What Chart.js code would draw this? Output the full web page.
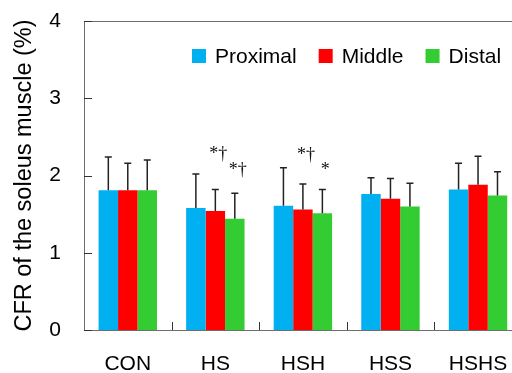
<!DOCTYPE html>
<html>
<head>
<meta charset="utf-8">
<script src="https://cdn.jsdelivr.net/npm/chart.js@4.4.1/dist/chart.umd.min.js"></script>
<style>
  html, body { margin: 0; padding: 0; background: #fff; overflow: hidden; }
  #wrap { width: 530px; height: 373px; }
</style>
</head>
<body>
<div id="wrap"><canvas id="cfr-chart" width="530" height="373"></canvas></div>
<script>
// ---------------- data ----------------
const groups = ['CON', 'HS', 'HSH', 'HSS', 'HSHS'];
const proximal = [1.81, 1.58, 1.61, 1.76, 1.82];
const middle   = [1.81, 1.54, 1.56, 1.70, 1.88];
const distal   = [1.81, 1.44, 1.51, 1.60, 1.74];
const proximalSD = [0.43, 0.44, 0.49, 0.21, 0.34];
const middleSD   = [0.35, 0.28, 0.33, 0.26, 0.37];
const distalSD   = [0.39, 0.33, 0.31, 0.30, 0.31];
// significance marks (text) and the level they sit at (in % units)
const middleMarks = ['', '*†', '*†', '', ''];
const middleMarkY = [0, 2.28, 2.265, 0, 0];
const distalMarks = ['', '*†', '*', '', ''];
const distalMarkY = [0, 2.065, 2.065, 0, 0];
const yTicks = [0, 1, 2, 3, 4];

const FONT = "'Liberation Sans', Arial, sans-serif";
const colors = ['#00B0F0', '#FF0000', '#33CC33'];
const seriesNames = ['Proximal', 'Middle', 'Distal'];
const sds = [proximalSD, middleSD, distalSD];

// ---------------- plugins ----------------
const frame = {
    id: 'frame',
    afterDraw(chart) {
        const { ctx, chartArea: a, scales: { x, y } } = chart;
        ctx.save();
        ctx.strokeStyle = '#6e6e6e';
        ctx.lineWidth = 1;
        ctx.beginPath();
        ctx.moveTo(a.left + 0.5, a.bottom);
        ctx.lineTo(a.left + 0.5, a.top + 0.5);
        ctx.lineTo(a.right, a.top + 0.5);
        ctx.moveTo(a.left, a.bottom + 0.5);
        ctx.lineTo(a.right, a.bottom + 0.5);
        ctx.stroke();

        // inner ticks
        ctx.strokeStyle = '#333';
        ctx.beginPath();
        yTicks.forEach(v => {
            const py = Math.round(y.getPixelForValue(v)) + 0.5;
            ctx.moveTo(a.left, py);
            ctx.lineTo(a.left + 8, py);
        });
        for (let i = 0; i < groups.length - 1; i++) {
            const px = Math.round((x.getPixelForValue(i) + x.getPixelForValue(i + 1)) / 2) + 0.5;
            ctx.moveTo(px, a.bottom);
            ctx.lineTo(px, a.bottom - 8);
        }
        ctx.stroke();

        // legend
        ctx.font = '21px ' + FONT;
        ctx.textBaseline = 'middle';
        ctx.textAlign = 'left';
        let lx = 192;
        const ly = 56;
        seriesNames.forEach((name, i) => {
            ctx.fillStyle = colors[i];
            ctx.fillRect(lx, ly - 7, 14, 14);
            ctx.fillStyle = '#000';
            ctx.fillText(name, lx + 23, ly + 1);
            lx += 23 + ctx.measureText(name).width + 22;
        });
        ctx.restore();
    }
};

const errorBars = {
    id: 'errorBars',
    afterDatasetsDraw(chart) {
        const { ctx, scales: { y } } = chart;
        ctx.save();
        ctx.strokeStyle = '#222';
        ctx.lineWidth = 1.5;
        chart.data.datasets.forEach((ds, di) => {
            const meta = chart.getDatasetMeta(di);
            meta.data.forEach((bar, i) => {
                const top = y.getPixelForValue(ds.data[i] + sds[di][i]);
                ctx.beginPath();
                ctx.moveTo(bar.x, bar.y);
                ctx.lineTo(bar.x, top);
                ctx.moveTo(bar.x - 3.5, top);
                ctx.lineTo(bar.x + 3.5, top);
                ctx.stroke();
            });
        });

        // significance marks
        ctx.fillStyle = '#111';
        ctx.font = "18px 'Liberation Serif', 'Times New Roman', serif";
        ctx.textAlign = 'center';
        ctx.textBaseline = 'middle';
        const marks = [[1, middleMarks, middleMarkY], [2, distalMarks, distalMarkY]];
        marks.forEach(([di, txt, lvl]) => {
            const meta = chart.getDatasetMeta(di);
            txt.forEach((t, i) => {
                if (!t) return;
                ctx.fillText(t, meta.data[i].x + 3, y.getPixelForValue(lvl[i]));
            });
        });
        ctx.restore();
    }
};

// ---------------- chart ----------------
const datasets = [proximal, middle, distal].map((vals, i) => ({
    label: seriesNames[i],
    data: vals,
    backgroundColor: colors[i],
    borderWidth: 0,
    categoryPercentage: 0.667,
    barPercentage: 1.0
}));

new Chart(document.getElementById('cfr-chart'), {
    type: 'bar',
    data: { labels: groups, datasets: datasets },
    options: {
        responsive: false,
        animation: false,
        layout: { padding: { top: 21, right: 8, left: 0, bottom: 0 } },
        plugins: { legend: { display: false }, tooltip: { enabled: false } },
        scales: {
            x: {
                grid: { display: false, drawTicks: false },
                border: { display: false },
                ticks: { color: '#000', font: { family: FONT, size: 21 }, padding: 22 },
                afterFit(scale) { scale.height = 43; }
            },
            y: {
                min: 0,
                max: 4,
                grid: { display: false, drawTicks: false },
                border: { display: false },
                afterBuildTicks(scale) { scale.ticks = yTicks.map(v => ({ value: v })); },
                ticks: { color: '#000', font: { family: FONT, size: 21 }, padding: 23 },
                title: {
                    display: true,
                    text: 'CFR of the soleus muscle (%)',
                    color: '#000',
                    font: { family: FONT, size: 23.5 },
                    padding: { top: 10, bottom: 0 }
                },
                afterFit(scale) {
                    scale.width = 84;
                    scale.paddingTop = 0;
                    scale.paddingBottom = 0;
                }
            }
        }
    },
    plugins: [errorBars, frame]
});
</script>
</body>
</html>
